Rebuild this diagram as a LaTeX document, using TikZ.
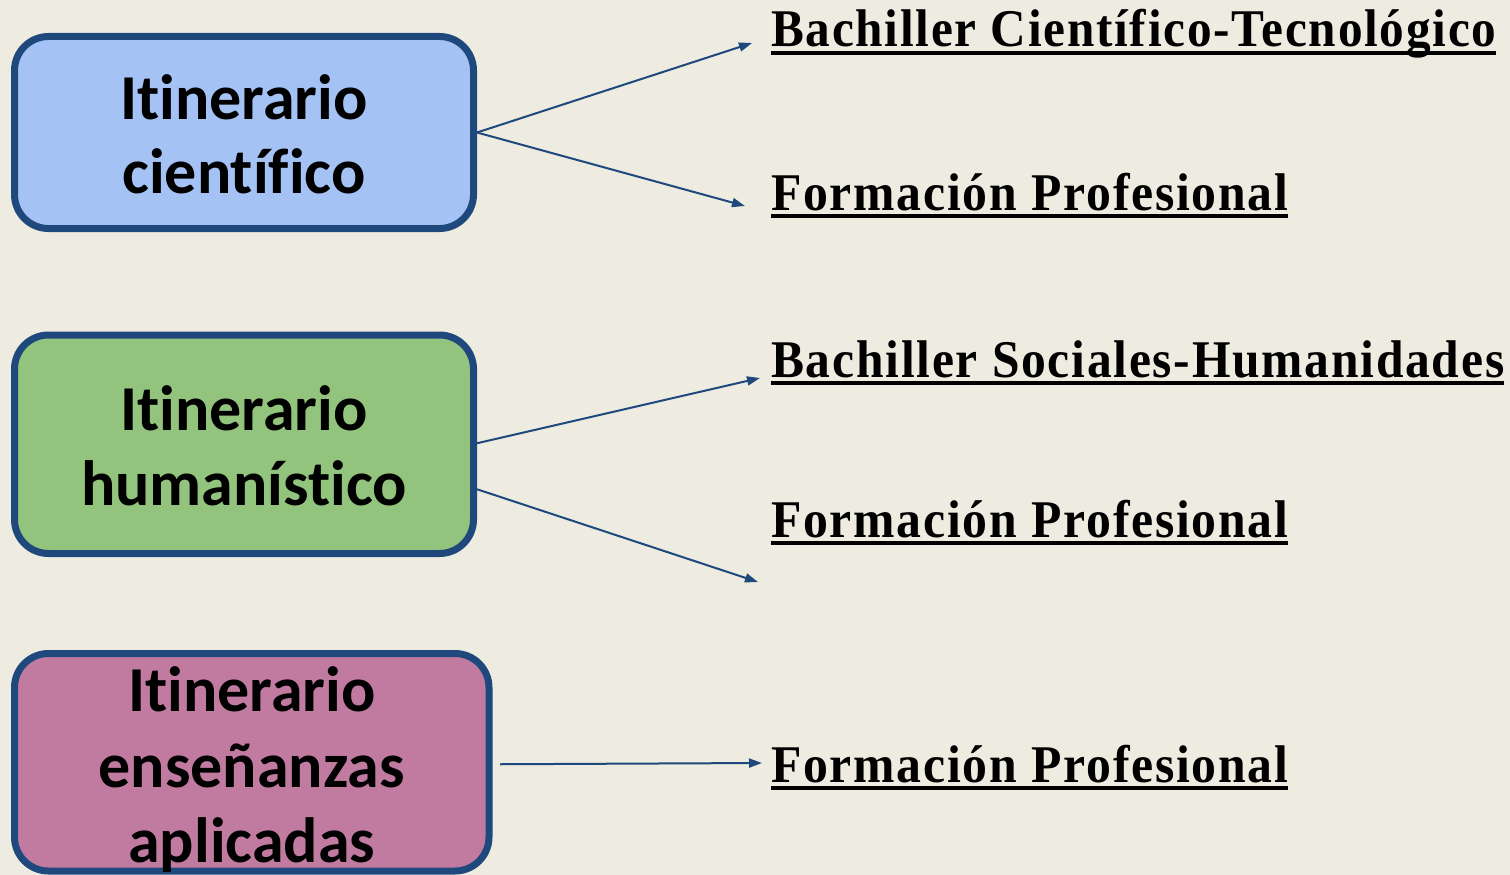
\documentclass[tikz,border=0pt]{standalone}
\usepackage{fontspec}
\usepackage{graphicx}
\setmainfont{Carlito}[Ligatures=NoCommon]
\newfontfamily\serifb[FakeStretch=0.85,LetterSpace=3]{Liberation Serif}
\usetikzlibrary{arrows.meta,calc}
\definecolor{bg}{HTML}{EEECE1}
\definecolor{bord}{HTML}{1F497D}
\definecolor{fblue}{HTML}{A4C2F4}
\definecolor{fgreen}{HTML}{93C47D}
\definecolor{fpink}{HTML}{C27BA0}
\newcommand{\dst}[2]{\resizebox{#1}{\height}{\serifb\bfseries\fontsize{53}{53}\selectfont #2}}
\begin{document}
\begin{tikzpicture}[x=1pt,y=-1pt,
  itbox/.style={draw=bord,line width=7pt,rounded corners=34pt,inner sep=0pt},
  boxtxt/.style={anchor=base,inner sep=0pt,font=\fontsize{64}{75}\selectfont\bfseries},
  dest/.style={anchor=base west,inner sep=0pt},
  uline/.style={line width=3.5pt,black},
  arr/.style={draw=bord,line width=2pt,-{Triangle[length=13pt,width=9pt]}}]
\fill[bg] (0,0) rectangle (1510,875);
\useasboundingbox (0,0) rectangle (1510,875);
% boxes
\node[itbox,fill=fblue,minimum width=459pt,minimum height=192pt] (cien) at (244,132.5) {};
\node[itbox,fill=fgreen,minimum width=459pt,minimum height=218.5pt] (hum) at (244,444.25) {};
\node[itbox,fill=fpink,minimum width=474.5pt,minimum height=217.5pt] (apl) at (251.75,762.25) {};
% box texts
\node[boxtxt] (cien1) at (244,119) {Itinerario};
\node[boxtxt] (cien2) at (244,193) {científico};
\node[boxtxt] (hum1) at (244,430) {Itinerario};
\node[boxtxt] (hum2) at (244,505) {humanístico};
\node[boxtxt] (apl1) at (251.75,711) {Itinerario};
\node[boxtxt] (apl2) at (251.75,787) {enseñanzas};
\node[boxtxt] (apl3) at (251.75,862) {aplicadas};
% destinations
\node[dest] (t1) at (771,47) {\dst{725pt}{Bachiller Científico-Tecnológico}};
\node[dest] (t2) at (771,210) {\dst{517pt}{Formación Profesional}};
\node[dest] (t3) at (771,377) {\dst{733pt}{Bachiller Sociales-Humanidades}};
\node[dest] (t4) at (771,537) {\dst{517pt}{Formación Profesional}};
\node[dest] (t5) at (771,782) {\dst{517pt}{Formación Profesional}};
\foreach \t in {t1,t2,t3,t4,t5}{
  \draw[uline] ($(\t.base west)+(0,6)$) -- ($(\t.base east)+(0,6)$);
}
% arrow ends
\coordinate (e1) at ($(t1.base west)+(-19,-4)$);
\coordinate (e2) at ($(t2.base west)+(-26,-4)$);
\coordinate (e3) at ($(t3.base west)+(-11,1)$);
\coordinate (e4) at ($(t4.base west)+(-13,45)$);
\coordinate (e5) at ($(t5.base west)+(-9,-19)$);
\coordinate (s3) at ($(hum.east)+(0,-1)$);
\coordinate (s4) at ($(hum.east)+(0,45)$);
\coordinate (s5) at ($(apl.east)+(7.5,2)$);
\draw[arr] (cien.east) -- (e1);
\draw[arr] (cien.east) -- (e2);
\draw[arr] (s3) -- (e3);
\draw[arr] (s4) -- (e4);
\draw[arr] (s5) -- (e5);
\end{tikzpicture}
\end{document}
